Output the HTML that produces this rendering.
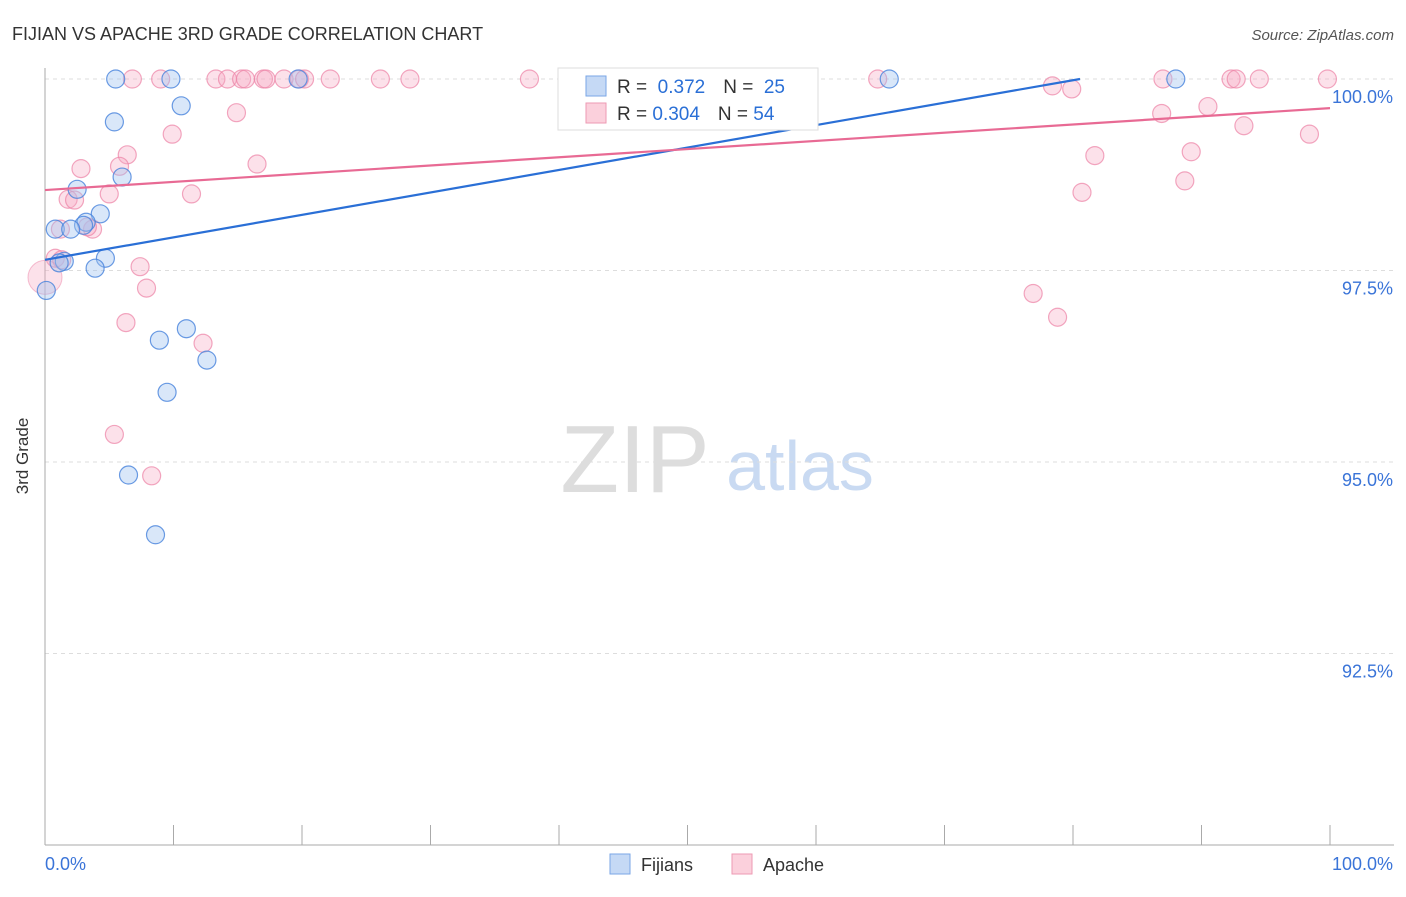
<!DOCTYPE html>
<html><head><meta charset="utf-8"><style>
body{margin:0;background:#fff;font-family:"Liberation Sans",sans-serif;}
svg text{font-family:"Liberation Sans",sans-serif;}
</style></head><body>
<svg id="chart" width="1406" height="892">
<text x="12" y="40" font-size="18" fill="#333">FIJIAN VS APACHE 3RD GRADE CORRELATION CHART</text>
<text x="1394" y="40" font-size="15" fill="#555" text-anchor="end" font-style="italic">Source: ZipAtlas.com</text>
<text x="28" y="456" font-size="17" fill="#333" text-anchor="middle" transform="rotate(-90 28 456)">3rd Grade</text>
<text x="635" y="492" font-size="96" fill="#ddd" font-family="Liberation Serif" text-anchor="middle">ZIP</text>
<text x="800" y="490" font-size="70" fill="#c9daf2" text-anchor="middle">atlas</text>
<g id="grid"></g><g id="axes"></g><g id="marks"></g><g id="lines"></g>
<g>
<rect x="558" y="68" width="260" height="62" fill="#fff" stroke="#ddd"/>
<rect x="586" y="76" width="20" height="20" fill="#c5d9f5" stroke="#7aa6e6"/>
<rect x="586" y="103" width="20" height="20" fill="#fbd0dc" stroke="#ee9ab3"/>
<text x="617" y="93" font-size="19" fill="#333">R = <tspan fill="#2a6fd6">&#160;0.372</tspan><tspan dx="18">N = </tspan><tspan fill="#2a6fd6">&#160;25</tspan></text>
<text x="617" y="120" font-size="19" fill="#333">R = <tspan fill="#2a6fd6">0.304</tspan><tspan dx="18">N = </tspan><tspan fill="#2a6fd6">54</tspan></text>
</g>
<g>
<rect x="610" y="854" width="20" height="20" fill="#c5d9f5" stroke="#7aa6e6"/>
<text x="641" y="871" font-size="18" fill="#333">Fijians</text>
<rect x="732" y="854" width="20" height="20" fill="#fbd0dc" stroke="#ee9ab3"/>
<text x="763" y="871" font-size="18" fill="#333">Apache</text>
</g>
</svg>
<script>
const yTicks=[100,97.5,95,92.5];
const yTickLabels=["100.0%","97.5%","95.0%","92.5%"];
const xTickLabels=["0.0%","100.0%"];
const fijX=[5.5,9.8,19.7,65.7,88,10.6,5.4,6,2.5,4.3,3.2,3,0.8,2,0.1,1.5,1.1,4.7,3.9,11,8.9,12.6,9.5,6.5,8.6];
const fijY=[100,100,100,100,100,99.65,99.44,98.72,98.56,98.24,98.13,98.09,98.04,98.04,97.24,97.62,97.6,97.66,97.53,96.74,96.59,96.33,95.91,94.83,94.05];
const apaX=[6.8,9,13.3,14.2,15.3,15.6,17,17.2,18.6,19.8,20.2,22.2,26.1,28.4,37.7,64.8,87,92.3,92.7,94.5,99.8,78.4,79.9,14.9,86.9,90.5,93.3,98.4,9.9,6.4,81.7,89.2,5.8,2.8,16.5,88.7,5,11.4,80.7,1.8,2.3,3.7,1.2,3.3,0.8,7.4,7.9,76.9,78.8,6.3,12.3,5.4,8.3,1.3];
const apaY=[100,100,100,100,100,100,100,100,100,100,100,100,100,100,100,100,100,100,100,100,100,99.91,99.87,99.56,99.55,99.64,99.39,99.28,99.28,99.01,99,99.05,98.86,98.83,98.89,98.67,98.5,98.5,98.52,98.43,98.42,98.04,98.04,98.07,97.66,97.55,97.27,97.2,96.89,96.82,96.55,95.36,94.82,97.64];
const apaR=[9,9,9,9,9,9,9,9,9,9,9,9,9,9,9,9,9,9,9,9,9,9,9,9,9,9,9,9,9,9,9,9,9,9,9,9,9,9,9,9,9,9,9,9,9,9,9,9,9,9,9,9,9,9];
const trendX=[0,100];
const fijTrend=[97.64,100.57];
const apaTrend=[98.55,99.62];
const X=v=>45+v*12.85, Y=v=>79+(100-v)*76.6;
const NS="http://www.w3.org/2000/svg";
function mk(parent,tag,attrs){const e=document.createElementNS(NS,tag);for(const k in attrs)e.setAttribute(k,attrs[k]);document.getElementById(parent).appendChild(e);return e;}
yTicks.forEach((t,i)=>{
 const g=mk('grid','line',{x1:45,x2:1394,y1:Y(t),y2:Y(t),stroke:'#ddd','stroke-dasharray':'4,4'});
 
 
 const l=mk('axes','text',{x:1393,y:Y(t)+24,'font-size':18,fill:'#3a74d8','text-anchor':'end'});l.textContent=yTickLabels[i];
 
 
});
let a=mk('axes','line',{x1:45,x2:45,y1:68,y2:845,stroke:'#aaa'});


a=mk('axes','line',{x1:45,x2:1394,y1:845,y2:845,stroke:'#aaa'});


for(let i=0;i<=10;i++){const t=mk('axes','line',{x1:X(i*10),x2:X(i*10),y1:825,y2:845,stroke:'#aaa'});
 
 }
let xl=mk('axes','text',{x:45,y:870,'font-size':18,fill:'#3a74d8'});xl.textContent=xTickLabels[0];


xl=mk('axes','text',{x:1393,y:870,'font-size':18,fill:'#3a74d8','text-anchor':'end'});xl.textContent=xTickLabels[1];


apaX.forEach((v,i)=>{const c=mk('marks','circle',{cx:X(v),cy:Y(apaY[i]),r:apaR[i],fill:'rgba(246,170,195,0.35)',stroke:'rgba(236,130,165,0.7)','stroke-width':1.2});
 
 });
const big=mk('marks','circle',{cx:X(0),cy:Y(97.41),r:17,fill:'rgba(246,170,195,0.35)',stroke:'rgba(236,130,165,0.5)'});


fijX.forEach((v,i)=>{const c=mk('marks','circle',{cx:X(v),cy:Y(fijY[i]),r:9,fill:'rgba(160,195,240,0.4)',stroke:'rgba(70,130,220,0.8)','stroke-width':1.2});
 
 });
// blue trend clipped at 100%
const bx2=(100-fijTrend[0])/(fijTrend[1]-fijTrend[0])*100;
let ln=mk('lines','line',{x1:X(trendX[0]),y1:Y(fijTrend[0]),x2:X(Math.min(bx2,trendX[1])),y2:Y(Math.min(100,fijTrend[1])),stroke:'#2a6fd6','stroke-width':2.2});


ln=mk('lines','line',{x1:X(trendX[0]),y1:Y(apaTrend[0]),x2:X(trendX[1]),y2:Y(apaTrend[1]),stroke:'#e86a94','stroke-width':2.2});


</script>
</body></html>
